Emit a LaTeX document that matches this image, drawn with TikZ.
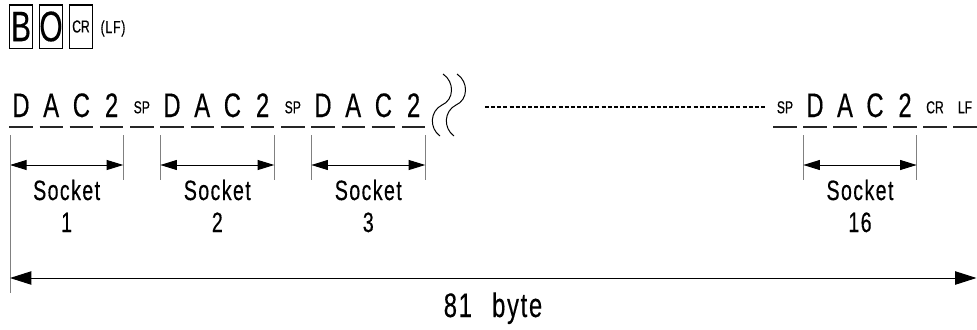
\documentclass[tikz,border=0pt]{standalone}
\usepackage{fontspec}
\setmainfont{Liberation Sans}[FakeStretch=0.7,FakeBold=0.35]
\newfontfamily\spacedfont{Liberation Sans}[FakeStretch=0.7,FakeBold=0.35,LetterSpace=5]
\usetikzlibrary{arrows.meta}

\begin{document}
\begin{tikzpicture}[
        x=0.75pt, y=-0.75pt,
        line width=0.75pt,
        chr/.style={anchor=base, inner sep=0pt, font=\fontsize{25.5}{26}\selectfont},
        ctl/.style={anchor=base, inner sep=0pt, font=\fontsize{13}{13}\selectfont},
        cell/.style={draw, line width=0.8pt, inner sep=0pt,
            minimum width=17.5pt, minimum height=32.3pt},
        uline/.style={line width=1pt, black!85},
        tick/.style={gray, line width=0.75pt},
        dim/.style={{Triangle[length=12.5pt,width=7.5pt]}-{Triangle[length=12.5pt,width=7.5pt]}},
        dimbig/.style={{Triangle[length=16pt,width=10pt]}-{Triangle[length=16pt,width=10pt]}},
        lbl/.style={anchor=base, inner sep=0pt, font=\spacedfont\fontsize{21}{22}\selectfont},
        lblbig/.style={anchor=base, inner sep=0pt, font=\spacedfont\fontsize{25.5}{26}\selectfont}
    ]

        \useasboundingbox (0,0) rectangle (977,329);

        % Riga dei comandi
        \node[cell, font=\fontsize{32}{32}\selectfont] (cmdB) at (21,26.5) {B};
        \node[cell, font=\fontsize{32}{32}\selectfont] (cmdO) at (51,26.5) {O};
        \node[cell, font=\fontsize{13}{13}\selectfont] (cmdCR) at (81,26.5) {CR};
        \node[ctl, font=\spacedfont\fontsize{13}{13}\selectfont] (cmdLF) at (113,33) {(LF)};

        % Risposta: primi tre socket
        \foreach \t/\s/\b [count=\i from 0] in {D/chr/117, A/chr/117, C/chr/117, 2/chr/117, SP/ctl/113.3,
                D/chr/117, A/chr/117, C/chr/117, 2/chr/117, SP/ctl/113.3,
                D/chr/117, A/chr/117, C/chr/117, 2/chr/117} {
            \node[\s] (c\i) at ({21+30.2*\i},\b) {\t};
            \draw[uline] ({21+30.2*\i-11.7},127) -- ({21+30.2*\i+11.7},127);
        }

        % Interruzione
        \foreach \dx in {0,14} {
            \draw ({443+\dx},74) .. controls ({455+\dx},82) and ({454+\dx},100) .. ({442+\dx},105)
                .. controls ({430+\dx},111) and ({429+\dx},128) .. ({440+\dx},136);
        }
        \draw[line width=0.9pt, dash pattern=on 3pt off 1.6pt] (485,107) -- (767,107);

        % Ultimo socket e terminatore
        \foreach \t/\s/\b [count=\i from 0] in {SP/ctl/113.3, D/chr/117, A/chr/117, C/chr/117, 2/chr/117,
                CR/ctl/113.3, LF/ctl/113.3} {
            \node[\s] (e\i) at ({785+30*\i},\b) {\t};
            \draw[uline] ({785+30*\i-11.7},127) -- ({785+30*\i+11.7},127);
        }

        % Quote dei socket
        \foreach \l/\r/\n in {10/123.3/1, 160.3/274.3/2, 311.3/425.3/3, 803.3/916.7/16} {
            \coordinate (L\n) at (\l,135);
            \coordinate (R\n) at (\r,135);
            \coordinate (AL\n) at (\l,165);
            \coordinate (AR\n) at (\r,165);
            \draw[tick] (L\n) -- ++(0,45);
            \draw[tick] (R\n) -- ++(0,45);
            \draw[dim] (AL\n) -- (AR\n);
            \node[lbl] (sock\n) at ({(\l+\r)/2},200) {Socket};
            \node[lbl] (num\n) at ({(\l+\r)/2},232) {\n};
        }

        % Lunghezza totale
        \coordinate (bottom) at (10,293);
        \coordinate (totL) at (10,278);
        \coordinate (totR) at (976.5,278);
        \draw[tick] (L1) -- (bottom);
        \draw[dimbig] (totL) -- (totR);
        \node[lblbig] (total) at (493,317) {81\hspace{0.35em} byte};

    \end{tikzpicture}
\end{document}
